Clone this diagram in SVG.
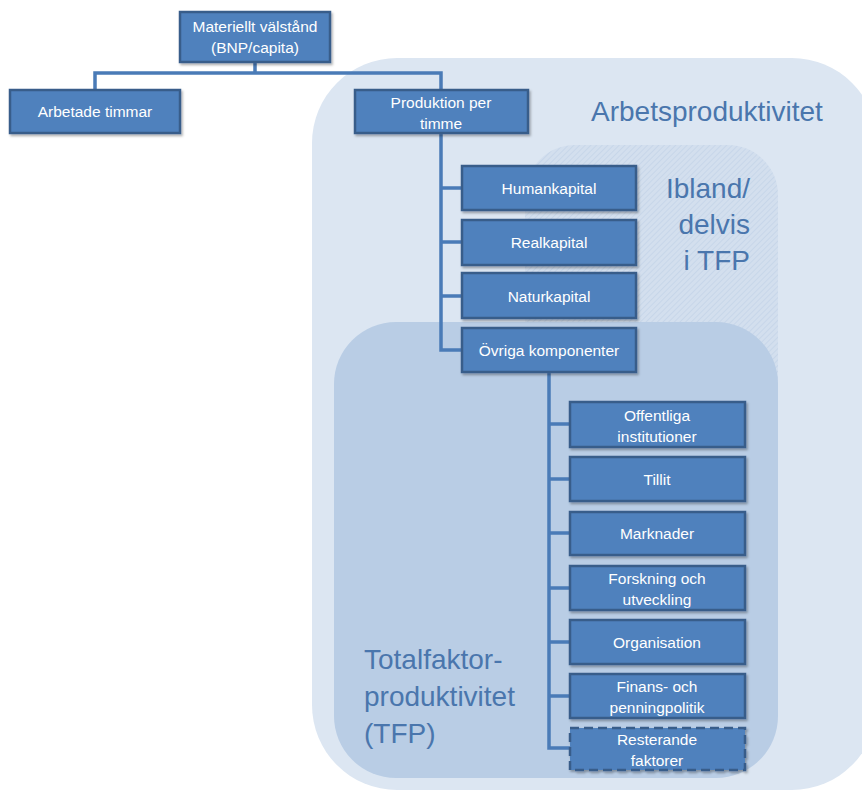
<svg xmlns="http://www.w3.org/2000/svg" width="862" height="794" viewBox="0 0 862 794">
<defs>
<pattern id="hatch" patternUnits="userSpaceOnUse" width="4" height="4" patternTransform="rotate(45)">
<rect width="4" height="4" fill="#d3dfee"/>
<line x1="0" y1="0" x2="0" y2="4" stroke="#c3d3e8" stroke-width="1.5"/>
</pattern>
<filter id="sh" x="-10%" y="-10%" width="130%" height="140%">
<feDropShadow dx="1.5" dy="2" stdDeviation="1.2" flood-color="#000" flood-opacity="0.3"/>
</filter>
</defs>
<style>
.node rect{fill:#4f81bd;stroke:#385d8a;stroke-width:2.5;filter:url(#sh)}
.node text{fill:#fff;font-family:"Liberation Sans",Arial,sans-serif;font-size:15.5px;text-anchor:middle}
.big{fill:#4a76ad;font-family:"Liberation Sans",Arial,sans-serif;font-size:28px}
.conn{fill:none;stroke:#4a7bb7;stroke-width:3.5}
</style>
<rect width="862" height="794" fill="#ffffff"/>
<g id="areas">
<rect x="312" y="58" width="565" height="732" rx="85" fill="#dce6f2"/>
<rect x="525" y="145" width="253" height="300" rx="50" fill="url(#hatch)"/>
<rect x="334" y="322" width="444" height="456" rx="62" fill="#b9cde5"/>
<text class="big" x="591" y="121">Arbetsproduktivitet</text>
<text class="big" x="750" y="198" text-anchor="end">Ibland/</text>
<text class="big" x="750" y="234" text-anchor="end">delvis</text>
<text class="big" x="750" y="270" text-anchor="end">i TFP</text>
<text class="big" x="364" y="669">Totalfaktor-</text>
<text class="big" x="364" y="706">produktivitet</text>
<text class="big" x="364" y="743">(TFP)</text>
</g>
<g id="connectors">
<path class="conn" d="M255 62 V73 M95 90 V73 H441 V90"/>
<path class="conn" d="M441 133 V350 H462 M441 188 H462 M441 242 H462 M441 296 H462"/>
<path class="conn" d="M549 372 V748 H570 M549 424 H570 M549 479 H570 M549 533 H570 M549 588 H570 M549 642 H570 M549 696 H570"/>
</g>
<g id="n-materiellt" class="node"><rect x="180" y="12" width="150" height="50"/><text x="255" y="32">Materiellt välstånd</text><text x="255" y="53">(BNP/capita)</text></g>
<g id="n-arbetade" class="node"><rect x="10" y="90" width="170" height="43"/><text x="95" y="117">Arbetade timmar</text></g>
<g id="n-produktion" class="node"><rect x="355" y="90" width="173" height="43"/><text x="441" y="108">Produktion per</text><text x="441" y="129">timme</text></g>
<g id="n-human" class="node"><rect x="462" y="166" width="174" height="44"/><text x="549" y="194">Humankapital</text></g>
<g id="n-real" class="node"><rect x="462" y="220" width="174" height="45"/><text x="549" y="248">Realkapital</text></g>
<g id="n-natur" class="node"><rect x="462" y="273" width="174" height="45"/><text x="549" y="302">Naturkapital</text></g>
<g id="n-ovriga" class="node"><rect x="462" y="328" width="174" height="44"/><text x="549" y="356">Övriga komponenter</text></g>
<g id="n-offentliga" class="node"><rect x="570" y="402" width="175" height="45"/><text x="657" y="421">Offentliga</text><text x="657" y="442">institutioner</text></g>
<g id="n-tillit" class="node"><rect x="570" y="457" width="175" height="44"/><text x="657" y="485">Tillit</text></g>
<g id="n-marknader" class="node"><rect x="570" y="512" width="175" height="43"/><text x="657" y="539">Marknader</text></g>
<g id="n-forskning" class="node"><rect x="570" y="566" width="175" height="44"/><text x="657" y="584">Forskning och</text><text x="657" y="605">utveckling</text></g>
<g id="n-organisation" class="node"><rect x="570" y="620" width="175" height="44"/><text x="657" y="648">Organisation</text></g>
<g id="n-finans" class="node"><rect x="570" y="674" width="175" height="44"/><text x="657" y="692">Finans- och</text><text x="657" y="713">penningpolitik</text></g>
<g id="n-resterande" class="node"><rect x="570" y="728" width="175" height="42" style="stroke-dasharray:9 5"/><text x="657" y="745">Resterande</text><text x="657" y="766">faktorer</text></g>
</svg>
